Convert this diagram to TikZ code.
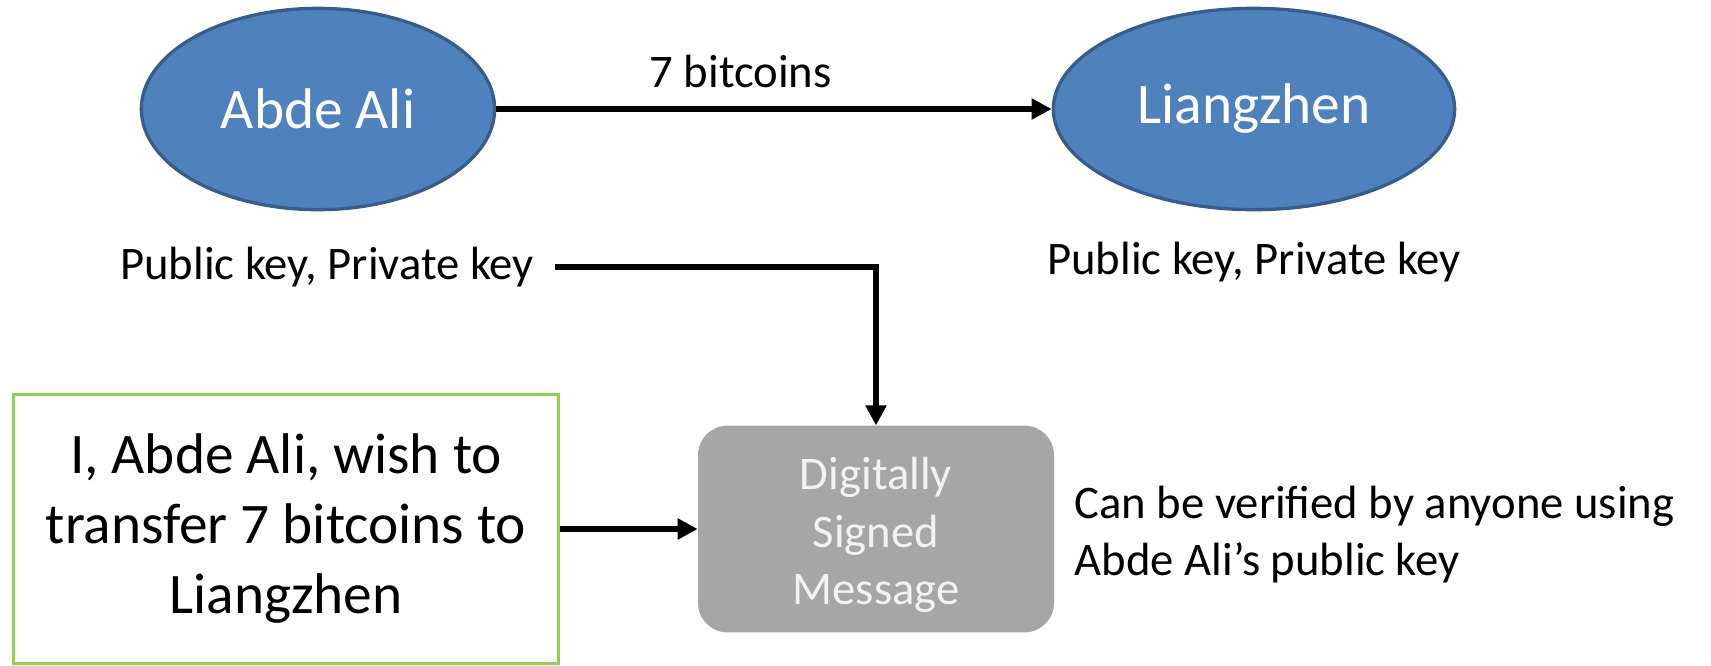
\documentclass[tikz,border=0pt]{standalone}
\usepackage{fontspec}
\setmainfont{Carlito}
\usetikzlibrary{arrows.meta,shapes.geometric,positioning}

\definecolor{pblue}{HTML}{4F81BD}
\definecolor{pborder}{HTML}{385D8A}
\definecolor{mgreen}{HTML}{92D050}
\definecolor{sgray}{HTML}{A6A6A6}
\definecolor{stext}{HTML}{F2F2F2}

\begin{document}
\begin{tikzpicture}
[x=0.75pt, y=-0.75pt,
party/.style={ellipse, fill=pblue, draw=pborder, line width=2.5pt, minimum height=151pt, inner sep=0pt, text=white, font=\fontsize{43}{52.5}\selectfont},
keys/.style={inner sep=0pt, font=\fontsize{35}{43}\selectfont},
msgbox/.style={rectangle, draw=mgreen, line width=2.25pt, minimum width=409pt, minimum height=202pt, align=center, font=\fontsize{43}{52.5}\selectfont},
sigbox/.style={rectangle, rounded corners=22pt, fill=sgray, minimum width=267pt, minimum height=155pt, align=center, text=stext, font=\fontsize{35}{43}\selectfont},
flow/.style={->, line width=4.8pt},
>/.tip={Triangle[length=15pt, width=15pt]}]

	\useasboundingbox (0,0) rectangle (1711,665);

	\node (abde) at (318,109) [party, minimum width=265pt] {Abde Ali};
	\node (liang) at (1254,109) [party, minimum width=301pt] {Liangzhen};
	
	\node (akeys) at (327,267) [keys] {Public key, Private key};
	\node (lkeys) [keys, below=23pt of liang] {Public key, Private key};
	
	\node (msg) at (286,529) [msgbox] {I, Abde Ali, wish to\\transfer 7 bitcoins to\\Liangzhen};
	\node (signed) at (876,529) [sigbox] {\rule{0pt}{33pt}Digitally\\Signed\\Message};
	\node (verify) [keys, right=15pt of signed, align=left, yshift=-4pt] {Can be verified by anyone using\\Abde Ali’s public key};
	
	\draw[flow] (abde) -- node[keys, pos=.44, above=13.5pt] (coins) {7 bitcoins} (liang);
	\draw[flow] ([xshift=16pt]akeys.east) -| (signed.north);
	\draw[flow] (msg.east) -- (signed.west);

\end{tikzpicture}
\end{document}
